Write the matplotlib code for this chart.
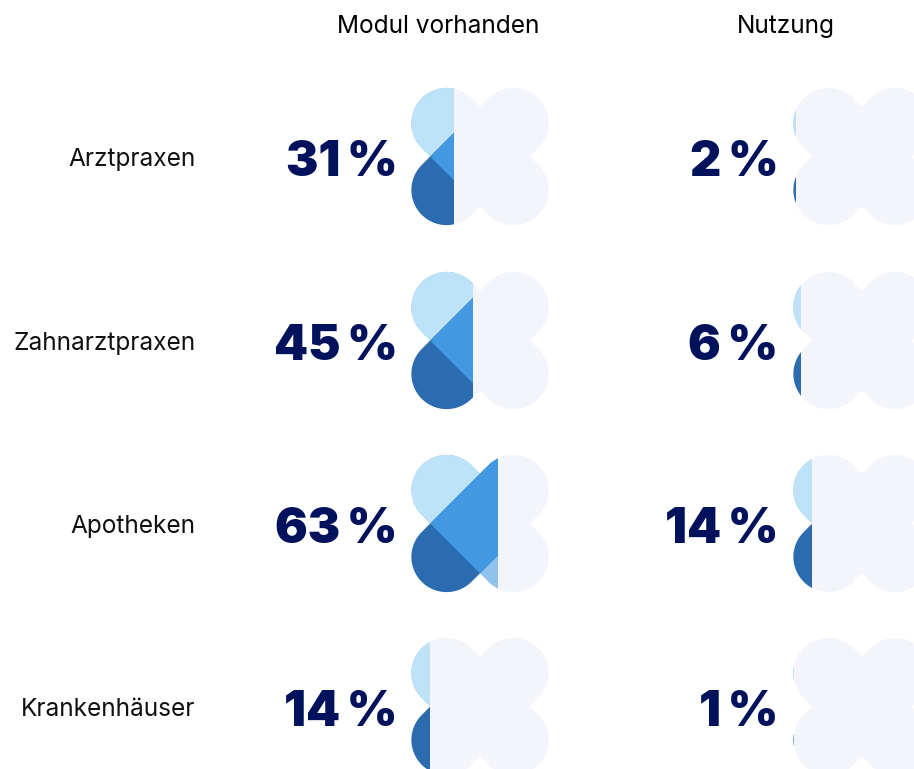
import numpy as np
import matplotlib
matplotlib.use("Agg")
import matplotlib.pyplot as plt
from matplotlib.patches import Polygon, Rectangle

categories = ["Arztpraxen", "Zahnarztpraxen", "Apotheken", "Krankenhäuser"]
modul_vorhanden = [31, 45, 63, 14]
nutzung = [2, 6, 14, 1]
column_titles = ["Modul vorhanden", "Nutzung"]

W, H = 914, 769
NAVY = "#00125B"
GREY = "#F3F5FA"
LIGHT = "#BEE3F8"
MIDLIGHT = "#90C2EE"
MID = "#4299E1"
DARK = "#2B6CB0"
R = 35.2
OFF = 33.4
SPAN = 138.0

fig = plt.figure(figsize=(W / 100, H / 100), dpi=100)
ax = fig.add_axes([0, 0, 1, 1])
ax.set_xlim(0, W)
ax.set_ylim(H, 0)
ax.axis("off")


def capsule(p0, p1, round0=True, round1=True):
    p0, p1 = np.array(p0, float), np.array(p1, float)
    d = (p1 - p0) / np.linalg.norm(p1 - p0)
    a = np.arctan2(d[1], d[0])
    n = np.array([-d[1], d[0]])
    pts = []
    if round1:
        t = np.linspace(a - np.pi / 2, a + np.pi / 2, 60)
        pts += list(p1 + R * np.c_[np.cos(t), np.sin(t)])
    else:
        pts += [p1 - R * n, p1 + R * n]
    if round0:
        t = np.linspace(a + np.pi / 2, a + 3 * np.pi / 2, 60)
        pts += list(p0 + R * np.c_[np.cos(t), np.sin(t)])
    else:
        pts += [p0 + R * n, p0 - R * n]
    return np.array(pts)


def clover(cx, cy, pct):
    tl, br = (cx - OFF, cy - OFF), (cx + OFF, cy + OFF)
    bl, tr = (cx - OFF, cy + OFF), (cx + OFF, cy - OFF)
    c = (cx, cy)
    lower_edge = (cx - R / np.sqrt(2), cy + R / np.sqrt(2))
    for pts in (capsule(tl, br), capsule(bl, tr)):
        ax.add_patch(Polygon(pts, closed=True, fc=GREY, ec="none"))
    clip = Rectangle((cx - SPAN / 2, cy - SPAN), SPAN * pct / 100, 2 * SPAN, transform=ax.transData)
    layers = [
        (capsule(tl, br), MIDLIGHT),
        (capsule(c, tl, round0=False), LIGHT),
        (capsule(bl, tr), DARK),
        (capsule(lower_edge, tr, round0=False), MID),
    ]
    for pts, col in layers:
        p = Polygon(pts, closed=True, fc=col, ec="none")
        ax.add_patch(p)
        p.set_clip_path(clip)


col_x = [480.0, 862.0]
row_y = [156.5, 340.5, 523.5, 706.5]
num_right = [397.5, 778.5]
FONT = "Inter"

for x, t in zip([438, 785.5], column_titles):
    ax.text(x, 33, t, ha="center", va="baseline", fontsize=17.6, family=FONT, color="#000000")

for y, cat, a, b in zip(row_y, categories, modul_vorhanden, nutzung):
    ax.text(195.5, y + 9.5, cat, ha="right", va="baseline", fontsize=17.6, family=FONT, color="#111111")
    for cx, nr, v in zip(col_x, num_right, (a, b)):
        clover(cx, y, v)
        ax.text(nr, y + 19.5, f"{v}\u2009%", ha="right", va="baseline", fontsize=35, fontweight=900,
                family=FONT, color=NAVY)

fig.savefig("out.png", dpi=100)
